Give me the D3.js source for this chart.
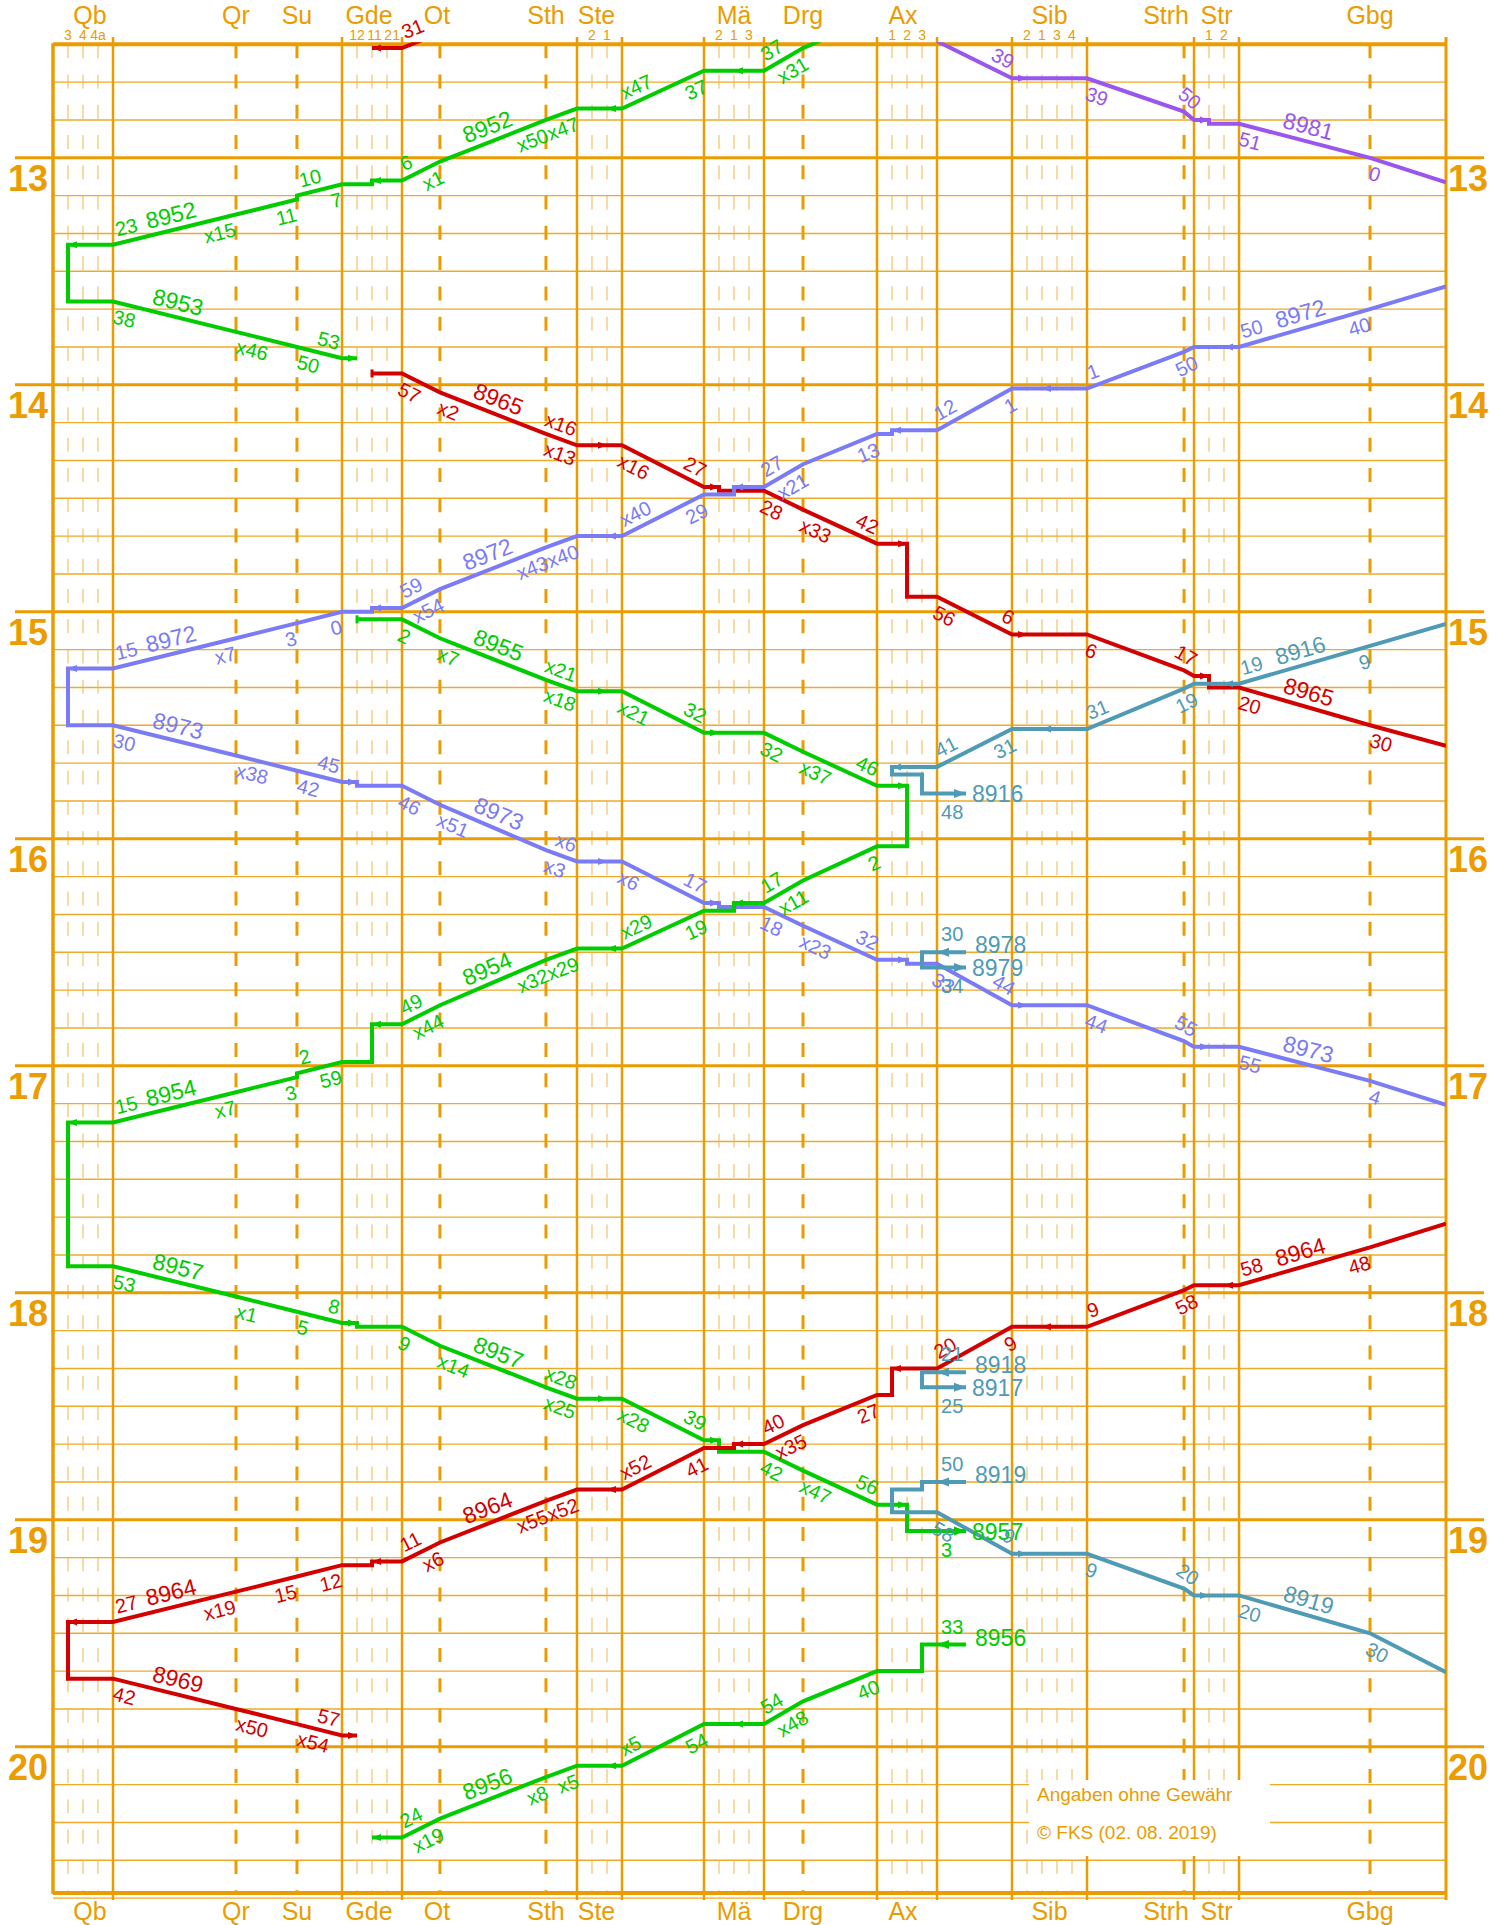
<!DOCTYPE html>
<html>
<head>
<meta charset="utf-8">
<script src="https://cdn.jsdelivr.net/npm/d3@7"></script>
<style>
  body { margin: 0; background: #fff; }
  svg text { font-family: "Liberation Sans", Arial, Helvetica, sans-serif; }
</style>
</head>
<body>
<script>
// stations along the line, left to right (km is the open-line distance)
var stationNames = ['Qb', 'Qr', 'Su', 'Gde', 'Ot', 'Sth', 'Ste', 'Mä', 'Drg', 'Ax', 'Sib', 'Strh', 'Str', 'Gbg'];
var stationKm = [0, 12.45, 18.62, 23.18, 27.02, 37.75, 40.89, 49.19, 53.14, 60.63, 68.22, 78.04, 79.05, 92.31];
var stationTracks = [['3', '4', '4a'], [], [], ['12', '11', '21'], [], [], ['2', '1'], ['2', '1', '3'], [], ['1', '2', '3'], ['2', '1', '3', '4'], [], ['1', '2'], []];
var lineEndKm = 100;
var hours = [13, 14, 15, 16, 17, 18, 19, 20];

// stops: [station, arrival, departure, kind, track]
// kind: p = pass (x), s = stop, b = begins, e = ends, n = no label
var run8931 = [['Ot', '12:27', '12:27', 'n'], ['Gde', '12:31', null, 'e', 1]];
var run8952 = [['Ax', null, '12:22.5', 'n'], ['Drg', '12:31', '12:31', 'p'], ['Mä', '12:37', '12:37', 's', 1], ['Ste', '12:47', '12:47', 'p', 1],
  ['Sth', '12:50', '12:50', 'p'], ['Ot', '13:01', '13:01', 'p'], ['Gde', '13:06', '13:07', 's', 1], ['Su', '13:10', '13:11', 's'],
  ['Qr', '13:15', '13:15', 'p'], ['Qb', '13:23', null, 'e', 0]];
var run8953 = [['Qb', null, '13:38', 'b', 0], ['Qr', '13:46', '13:46', 'p'], ['Su', '13:50', '13:50', 's'], ['Gde', '13:53', null, 'e', 0]];
var run8965 = [['Gde', null, '13:57', 'b', 1], ['Ot', '14:02', '14:02', 'p'], ['Sth', '14:13', '14:13', 'p'], ['Ste', '14:16', '14:16', 'p', 1],
  ['Mä', '14:27', '14:28', 's', 0], ['Drg', '14:33', '14:33', 'p'], ['Ax', '14:42', '14:56', 's', 1], ['Sib', '15:06', '15:06', 's', 0],
  ['Strh', '15:15.5', '15:15.5', 'n'], ['Str', '15:17', '15:20', 's', 0], ['Gbg', '15:30', '15:30', 's'], ['R', '15:35.4']];
var run8981 = [['Ax', null, '12:29.2', 'n'], ['Sib', '12:39', '12:39', 's', 0], ['Strh', '12:47.8', '12:47.8', 'n'], ['Str', '12:50', '12:51', 's', 0],
  ['Gbg', '13:00', '13:00', 's'], ['R', '13:06.5']];
var run8972 = [['R', '13:34'], ['Gbg', '13:40', '13:40', 's'], ['Str', '13:50', '13:50', 's', 1], ['Strh', '13:51.3', '13:51.3', 'n'],
  ['Sib', '14:01', '14:01', 's', 1], ['Ax', '14:12', '14:13', 's', 0], ['Drg', '14:21', '14:21', 'p'], ['Mä', '14:27', '14:29', 's', 1],
  ['Ste', '14:40', '14:40', 'p', 1], ['Sth', '14:43', '14:43', 'p'], ['Ot', '14:54', '14:54', 'p'], ['Gde', '14:59', '15:00', 's', 1],
  ['Su', '15:03', '15:03', 's'], ['Qr', '15:07', '15:07', 'p'], ['Qb', '15:15', null, 'e', 0]];
var run8973 = [['Qb', null, '15:30', 'b', 0], ['Qr', '15:38', '15:38', 'p'], ['Su', '15:42', '15:42', 's'], ['Gde', '15:45', '15:46', 's', 0],
  ['Ot', '15:51', '15:51', 'p'], ['Sth', '16:03', '16:03', 'p'], ['Ste', '16:06', '16:06', 'p', 1], ['Mä', '16:17', '16:18', 's', 0],
  ['Drg', '16:23', '16:23', 'p'], ['Ax', '16:32', '16:33', 's', 1], ['Sib', '16:44', '16:44', 's', 0], ['Strh', '16:53.5', '16:53.5', 'n'],
  ['Str', '16:55', '16:55', 's', 0], ['Gbg', '17:04', '17:04', 's'], ['R', '17:10.3']];
var run8916 = [['R', '15:03.2'], ['Gbg', '15:09', '15:09', 's'], ['Str', '15:19', '15:19', 's', 1], ['Strh', '15:20.3', '15:20.3', 'n'],
  ['Sib', '15:31', '15:31', 's', 1], ['Ax', '15:41', '15:48', 's', [[0, '15:41'], [0, '15:43'], [2, '15:43'], [2, '15:48']]]];
var run8978 = [['Ax', '16:30', '16:34', 's', 2]];
var run8955 = [['Gde', null, '15:02', 'b', 0], ['Ot', '15:07', '15:07', 'p'], ['Sth', '15:18', '15:18', 'p'], ['Ste', '15:21', '15:21', 'p', 1],
  ['Mä', '15:32', '15:32', 's', 0], ['Drg', '15:37', '15:37', 'p'], ['Ax', '15:46', null, 'e', 1]];
var run8954 = [['Ax', null, '16:02', 'b', 1], ['Drg', '16:11', '16:11', 'p'], ['Mä', '16:17', '16:19', 's', 1], ['Ste', '16:29', '16:29', 'p', 1],
  ['Sth', '16:32', '16:32', 'p'], ['Ot', '16:44', '16:44', 'p'], ['Gde', '16:49', '16:59', 's', 1], ['Su', '17:02', '17:03', 's'],
  ['Qr', '17:07', '17:07', 'p'], ['Qb', '17:15', null, 'e', 0]];
var run8957 = [['Qb', null, '17:53', 'b', 0], ['Qr', '18:01', '18:01', 'p'], ['Su', '18:05', '18:05', 's'], ['Gde', '18:08', '18:09', 's', 0],
  ['Ot', '18:14', '18:14', 'p'], ['Sth', '18:25', '18:25', 'p'], ['Ste', '18:28', '18:28', 'p', 1], ['Mä', '18:39', '18:42', 's', 0],
  ['Drg', '18:47', '18:47', 'p'], ['Ax', '18:56', '19:03', 's', 1]];
var run8964 = [['R', '17:41.7'], ['Gbg', '17:48', '17:48', 's'], ['Str', '17:58', '17:58', 's', 1], ['Strh', '17:59.3', '17:59.3', 'n'],
  ['Sib', '18:09', '18:09', 's', 1], ['Ax', '18:20', '18:27', 's', 0], ['Drg', '18:35', '18:35', 'p'], ['Mä', '18:40', '18:41', 's', 1],
  ['Ste', '18:52', '18:52', 'p', 1], ['Sth', '18:55', '18:55', 'p'], ['Ot', '19:06', '19:06', 'p'], ['Gde', '19:11', '19:12', 's', 1],
  ['Su', '19:15', '19:15', 's'], ['Qr', '19:19', '19:19', 'p'], ['Qb', '19:27', null, 'e', 0]];
var run8969 = [['Qb', null, '19:42', 'b', 0], ['Qr', '19:50', '19:50', 'p'], ['Su', '19:54', '19:54', 'p'], ['Gde', '19:57', null, 'e', 0]];
var run8918 = [['Ax', '18:21', '18:25', 's', 2]];
var run8919 = [['Ax', '18:50', '18:58', 's', [[2, '18:50'], [2, '18:52'], [0, '18:52'], [0, '18:58']]], ['Sib', '19:09', '19:09', 's', 0],
  ['Strh', '19:18.2', '19:18.2', 'n'], ['Str', '19:20', '19:20', 's', 0], ['Gbg', '19:30', '19:30', 's'], ['R', '19:40.3']];
var run8956 = [['Ax', '19:33', '19:40', 's', 2], ['Drg', '19:48', '19:48', 'p'], ['Mä', '19:54', '19:54', 's', 1], ['Ste', '20:05', '20:05', 'p', 1],
  ['Sth', '20:08', '20:08', 'p'], ['Ot', '20:19', '20:19', 'p'], ['Gde', '20:24', null, 'e', 1]];

var GREEN = '#00cc00', RED = '#d20000', BLUE = '#7b7bf5', PURPLE = '#9955ee', TEAL = '#4f9ab4';
var ORANGE = '#ea9c00', ORANGE_MINOR = '#eeaa2a', ORANGE_TRACK = '#f0b54a';

var trains = [
  {num: '', color: RED, dir: -1, stops: run8931},
  {num: '8952', color: GREEN, dir: -1, stops: run8952, turn: '8953'},
  {num: '8953', color: GREEN, dir: 1, stops: run8953},
  {num: '8965', color: RED, dir: 1, stops: run8965},
  {num: '8981', color: PURPLE, dir: 1, stops: run8981},
  {num: '8972', color: BLUE, dir: -1, stops: run8972, turn: '8973'},
  {num: '8973', color: BLUE, dir: 1, stops: run8973},
  {num: '8916', color: TEAL, dir: -1, stops: run8916, stubOut: '8916'},
  {num: '8978', color: TEAL, dir: -1, stops: run8978, stubIn: '8978', stubOut: '8979'},
  {num: '8955', color: GREEN, dir: 1, stops: run8955, turn: '8954'},
  {num: '8954', color: GREEN, dir: -1, stops: run8954, turn: '8957'},
  {num: '8957', color: GREEN, dir: 1, stops: run8957, stubOut: '8957'},
  {num: '8964', color: RED, dir: -1, stops: run8964, turn: '8969'},
  {num: '8969', color: RED, dir: 1, stops: run8969},
  {num: '8918', color: TEAL, dir: -1, stops: run8918, stubIn: '8918', stubOut: '8917'},
  {num: '8919', color: TEAL, dir: 1, stops: run8919, stubIn: '8919'},
  {num: '8956', color: GREEN, dir: -1, stops: run8956, stubIn: '8956'}
];

var W = 1511, H = 1925;
var frameL = 53, frameR = 1446, yTop = 44.3, yBottom = 1893;
var STUB = 29;

function toMin(s) {
  var p = s.split(':');
  return +p[0] * 60 + parseFloat(p[1]);
}
function mm(t) { return String(Math.round(t) % 60); }

var y = d3.scaleLinear().domain([toMin('12:30'), toMin('20:40')]).range([yTop, 1898.1]);

var boxWidth = function(tr) { return tr.length ? (tr.length + 1) * 15 : 0; };
var openWidth = frameR - frameL - d3.sum(stationTracks, boxWidth);
var kmX = d3.scaleLinear().domain([0, lineEndKm]).range([0, openWidth]);

var stations = {};
var boxAcc = 0;
stationNames.forEach(function(name, i) {
  var tr = stationTracks[i];
  var x0 = frameL + kmX(stationKm[i]) + boxAcc;
  var w = boxWidth(tr);
  boxAcc += w;
  stations[name] = {
    name: name, x0: x0, x1: x0 + w, cx: x0 + w / 2, box: w > 0, tracks: tr,
    trackX: tr.map(function(t, j) { return x0 + 15 * (j + 1); })
  };
});
stations.R = {name: 'R', x0: frameR, x1: frameR, cx: frameR, box: false, edge: true, tracks: [], trackX: []};

var svg = d3.select('body').append('svg').attr('width', W).attr('height', H);
svg.append('rect').attr('width', W).attr('height', H).attr('fill', '#fff');

// ---------- grid ----------
var gGrid = svg.append('g');
var minorTimes = d3.range(toMin('12:40'), toMin('20:40') + 1, 10).filter(function(m) { return m % 60 !== 0; });
gGrid.selectAll('.minor').data(minorTimes).join('line').attr('class', 'minor')
  .attr('x1', frameL).attr('x2', frameR)
  .attr('y1', function(d) { return y(d); }).attr('y2', function(d) { return y(d); })
  .attr('stroke', ORANGE_MINOR).attr('stroke-width', 1.4);

var stationList = stationNames.map(function(n) { return stations[n]; });
var trackTicks = [];
stationList.forEach(function(s) { s.trackX.forEach(function(x) { trackTicks.push(x); }); });

gGrid.selectAll('.track').data(trackTicks).join('line').attr('class', 'track')
  .attr('x1', function(d) { return d; }).attr('x2', function(d) { return d; })
  .attr('y1', yTop).attr('y2', yBottom)
  .attr('stroke', ORANGE_TRACK).attr('stroke-width', 1)
  .attr('stroke-dasharray', '14 16.26');

gGrid.selectAll('.dashed').data(stationList.filter(function(s) { return !s.box; })).join('line').attr('class', 'dashed')
  .attr('x1', function(d) { return d.cx; }).attr('x2', function(d) { return d.cx; })
  .attr('y1', yTop).attr('y2', yBottom)
  .attr('stroke', ORANGE).attr('stroke-width', 3)
  .attr('stroke-dasharray', '14 16.26');

var boxEdges = [];
stationList.filter(function(s) { return s.box; }).forEach(function(s) {
  if (s.x0 > frameL + 1) boxEdges.push(s.x0);
  boxEdges.push(s.x1);
});
gGrid.selectAll('.edge').data(boxEdges).join('line').attr('class', 'edge')
  .attr('x1', function(d) { return d; }).attr('x2', function(d) { return d; })
  .attr('y1', 37).attr('y2', 1900)
  .attr('stroke', ORANGE).attr('stroke-width', 2.5);

gGrid.selectAll('.hour').data(hours).join('line').attr('class', 'hour')
  .attr('x1', 15).attr('x2', 1484)
  .attr('y1', function(d) { return y(d * 60); }).attr('y2', function(d) { return y(d * 60); })
  .attr('stroke', ORANGE).attr('stroke-width', 3);

gGrid.append('line').attr('x1', frameL).attr('x2', frameR).attr('y1', yTop).attr('y2', yTop)
  .attr('stroke', ORANGE).attr('stroke-width', 4);
gGrid.append('line').attr('x1', frameL).attr('x2', frameR).attr('y1', yBottom).attr('y2', yBottom)
  .attr('stroke', ORANGE).attr('stroke-width', 4);
gGrid.append('line').attr('x1', frameL).attr('x2', frameL).attr('y1', yTop - 1).attr('y2', yBottom + 1)
  .attr('stroke', ORANGE).attr('stroke-width', 3.5);
gGrid.append('line').attr('x1', frameR).attr('x2', frameR).attr('y1', 37).attr('y2', 1900)
  .attr('stroke', ORANGE).attr('stroke-width', 3);

// hour labels
var gAxis = svg.append('g').attr('fill', ORANGE);
gAxis.selectAll('.hl').data(hours).join('text').attr('class', 'hl')
  .attr('x', 48).attr('y', function(d) { return y(d * 60) + 33; })
  .attr('text-anchor', 'end').attr('font-size', 36).attr('font-weight', 'bold')
  .text(function(d) { return d; });
gAxis.selectAll('.hr').data(hours).join('text').attr('class', 'hr')
  .attr('x', 1448).attr('y', function(d) { return y(d * 60) + 33; })
  .attr('text-anchor', 'start').attr('font-size', 36).attr('font-weight', 'bold')
  .text(function(d) { return d; });

// station names top and bottom
var nameShift = {Qb: 7, Strh: 5, Gde: -3, Ot: -3, Ste: -3, Ax: -4};
var nameX = function(s) { return s.cx + (nameShift[s.name] || 0); };
var nameAnchor = function(s) { return s.name === 'Strh' ? 'end' : 'middle'; };
gAxis.selectAll('.st').data(stationList).join('text').attr('class', 'st')
  .attr('x', nameX).attr('y', 24).attr('text-anchor', nameAnchor).attr('font-size', 25)
  .text(function(d) { return d.name; });
gAxis.selectAll('.sb').data(stationList).join('text').attr('class', 'sb')
  .attr('x', nameX).attr('y', 1920).attr('text-anchor', nameAnchor).attr('font-size', 25)
  .text(function(d) { return d.name; });

// track labels, spread apart where they would collide
stationList.forEach(function(s) {
  var prevX = -Infinity, prevW = 0;
  s.tracks.forEach(function(t, j) {
    var lab = gAxis.append('text').attr('y', 40).attr('text-anchor', 'middle').attr('font-size', 14).text(t);
    var w = lab.node().getComputedTextLength();
    var x = Math.max(s.trackX[j], prevX + (prevW + w) / 2 + 2.5);
    lab.attr('x', x);
    prevX = x; prevW = w;
  });
});

// ---------- trains ----------
svg.append('clipPath').attr('id', 'plot').append('rect')
  .attr('x', frameL).attr('y', yTop - 2).attr('width', frameR - frameL).attr('height', yBottom - yTop + 2);

function buildTrain(tr) {
  var pts = [], arrows = [], bars = [], recs = [];
  var n = tr.stops.length;
  tr.stops.forEach(function(s, i) {
    var st = stations[s[0]];
    var arr = s[1] != null ? toMin(s[1]) : null;
    var dep = s[2] != null ? toMin(s[2]) : arr;
    if (arr == null) arr = dep;
    var kind = s[3] || 'n';
    var rec = {st: st, arr: arr, dep: dep, kind: kind, entryIdx: -1, exitIdx: -1};
    recs.push(rec);
    if (st.edge) {
      rec.entryIdx = rec.exitIdx = pts.length;
      pts.push([st.cx, y(arr)]);
      return;
    }
    if (!st.box) {
      rec.entryIdx = pts.length;
      pts.push([st.cx, y(arr)]);
      if (dep !== arr) pts.push([st.cx, y(dep)]);
      rec.exitIdx = pts.length - 1;
      return;
    }
    var first = i === 0, last = i === n - 1;
    var stubIn = first && tr.stubIn, stubOut = last && tr.stubOut;
    var hasEntry = !first || stubIn, hasExit = !last || stubOut;
    var entryX = stubIn ? st.x1 + STUB : (tr.dir > 0 ? st.x0 : st.x1);
    var exitX = stubOut ? st.x1 + STUB : (tr.dir > 0 ? st.x1 : st.x0);
    var spec = s[4], path = [];
    if (Array.isArray(spec)) {
      path = spec.map(function(p) { return [p[0], toMin(p[1])]; });
    } else if (spec != null) {
      if (!hasEntry) path = [[spec, dep]];
      else if (!hasExit || arr === dep) path = [[spec, arr]];
      else path = [[spec, arr], [spec, dep]];
    }
    rec.stubIn = stubIn; rec.stubOut = stubOut;
    if (hasEntry) { rec.entryIdx = pts.length; pts.push([entryX, y(arr)]); }
    path.forEach(function(p) { pts.push([st.trackX[p[0]], y(p[1])]); });
    if (path.length) {
      var tx = st.trackX[path[0][0]], ty = y(path[0][1]);
      if (stubIn) arrows.push({x: st.x1, y: ty, d: -1, big: true});
      else if (hasEntry) arrows.push({x: tx, y: ty, d: tx > entryX ? 1 : -1});
      else bars.push({x: tx, y: ty});
    }
    if (hasExit) { rec.exitIdx = pts.length; pts.push([exitX, y(dep)]); }
    if (stubOut) arrows.push({x: exitX, y: y(dep), d: 1, big: true});
  });
  return {pts: pts, arrows: arrows, bars: bars, recs: recs};
}

var byNum = {};
trains.forEach(function(t) { t.geo = buildTrain(t); byNum[t.num] = t; });
var turnTargets = {};
trains.forEach(function(t) { if (t.turn) turnTargets[t.turn] = true; });

var gTrains = svg.append('g').attr('clip-path', 'url(#plot)');
var lineGen = d3.line();
trains.forEach(function(t) {
  if (turnTargets[t.num]) return;
  var pts = t.geo.pts.slice();
  var cur = t;
  while (cur.turn) {
    cur = byNum[cur.turn];
    pts = pts.concat(cur.geo.pts);
  }
  gTrains.append('path').attr('d', lineGen(pts)).attr('fill', 'none')
    .attr('stroke', t.color).attr('stroke-width', 4).attr('stroke-linejoin', 'miter');
});

var gMarks = svg.append('g');
trains.forEach(function(t) {
  t.geo.arrows.forEach(function(a) {
    var L = a.big ? 12 : 9, h = a.big ? 4.5 : 3.5;
    gMarks.append('path')
      .attr('d', 'M' + a.x + ',' + a.y + 'L' + (a.x - a.d * L) + ',' + (a.y - h) + 'L' + (a.x - a.d * L) + ',' + (a.y + h) + 'Z')
      .attr('fill', t.color);
  });
  if (turnTargets[t.num]) return;
  t.geo.bars.forEach(function(b) {
    gMarks.append('rect').attr('x', b.x - 1.5).attr('y', b.y - 4).attr('width', 3).attr('height', 8).attr('fill', t.color);
  });
});

// ---------- labels ----------
var gLabels = svg.append('g');
var OFF = 14;

function alongLabel(txt, a, b, side, size, color, gap) {
  var dx = b[0] - a[0], dy = b[1] - a[1];
  var len = Math.hypot(dx, dy) || 1;
  var ux = dx / len, uy = dy / len;
  var ang = Math.atan2(dy, dx) * 180 / Math.PI;
  if (ang > 90) ang -= 180;
  if (ang < -90) ang += 180;
  var r = ang * Math.PI / 180;
  var nx = Math.sin(r), ny = -Math.cos(r);
  var t = gLabels.append('text').text(txt).attr('font-size', size).attr('fill', color)
    .attr('text-anchor', 'middle').attr('dominant-baseline', 'central');
  var w = t.node().getComputedTextLength();
  var s = side < 0 ? 1 : -1;
  var cx = a[0] + ux * (gap + w / 2) + s * nx * OFF;
  var cy = a[1] + uy * (gap + w / 2) + s * ny * OFF;
  t.attr('transform', 'translate(' + cx + ',' + cy + ') rotate(' + ang + ')');
}

function numberLabel(txt, a, b, color) {
  var ang = Math.atan2(b[1] - a[1], b[0] - a[0]) * 180 / Math.PI;
  if (ang > 90) ang -= 180;
  if (ang < -90) ang += 180;
  var r = ang * Math.PI / 180;
  var cx = (a[0] + b[0]) / 2 + Math.sin(r) * 15;
  var cy = (a[1] + b[1]) / 2 - Math.cos(r) * 15;
  gLabels.append('text').text(txt).attr('font-size', 23).attr('fill', color)
    .attr('text-anchor', 'middle').attr('dominant-baseline', 'central')
    .attr('transform', 'translate(' + cx + ',' + cy + ') rotate(' + ang + ')');
}

trains.forEach(function(t) {
  var g = t.geo, pts = g.pts;
  g.recs.forEach(function(r) {
    if (r.kind === 'n' || r.st.edge) return;
    var entryTxt = null, exitTxt = null;
    if (r.st.box) {
      if (r.kind === 'p') { entryTxt = 'x' + mm(r.arr); exitTxt = 'x' + mm(r.dep); }
      else {
        if (r.kind !== 'b') entryTxt = mm(r.arr);
        if (r.kind !== 'e') exitTxt = mm(r.dep);
      }
    } else {
      if (r.kind === 'p') exitTxt = 'x' + mm(r.dep);
      else if (r.arr === r.dep) exitTxt = mm(r.dep);
      else { entryTxt = mm(r.arr); exitTxt = mm(r.dep); }
    }
    if (entryTxt != null) {
      if (r.stubIn) {
        gLabels.append('text').text(entryTxt).attr('x', r.st.x1 + 4).attr('y', y(r.arr) - 18)
          .attr('dominant-baseline', 'central').attr('font-size', 20).attr('fill', t.color);
      } else if (r.entryIdx > 0) {
        alongLabel(entryTxt, pts[r.entryIdx], pts[r.entryIdx - 1], -1, 20, t.color, 6);
      }
    }
    if (exitTxt != null) {
      if (r.stubOut) {
        gLabels.append('text').text(exitTxt).attr('x', r.st.x1 + 4).attr('y', y(r.dep) + 19)
          .attr('dominant-baseline', 'central').attr('font-size', 20).attr('fill', t.color);
      } else if (r.exitIdx >= 0 && r.exitIdx < pts.length - 1) {
        alongLabel(exitTxt, pts[r.exitIdx], pts[r.exitIdx + 1], 1, 20, t.color, 4);
      }
    }
    if (r.stubIn) {
      gLabels.append('text').text(t.stubIn).attr('x', r.st.x1 + STUB + 9).attr('y', y(r.arr) - 7)
        .attr('dominant-baseline', 'central').attr('font-size', 23).attr('fill', t.color);
    }
    if (r.stubOut) {
      gLabels.append('text').text(t.stubOut).attr('x', r.st.x1 + STUB + 6).attr('y', y(r.dep) + 1)
        .attr('dominant-baseline', 'central').attr('font-size', 23).attr('fill', t.color);
    }
  });
  if (!t.num) return;
  for (var k = 0; k < pts.length - 1; k++) {
    if (Math.abs(pts[k + 1][0] - pts[k][0]) > 100) numberLabel(t.num, pts[k], pts[k + 1], t.color);
  }
});

// ---------- disclaimer ----------
var gNote = svg.append('g');
gNote.append('rect').attr('x', 1029).attr('y', 1780).attr('width', 241).attr('height', 76).attr('fill', '#fff');
gNote.append('text').attr('x', 1037).attr('y', 1801).attr('font-size', 19).attr('fill', ORANGE).text('Angaben ohne Gewähr');
gNote.append('text').attr('x', 1037).attr('y', 1839).attr('font-size', 19).attr('fill', ORANGE).text('© FKS (02. 08. 2019)');
</script>
</body>
</html>
